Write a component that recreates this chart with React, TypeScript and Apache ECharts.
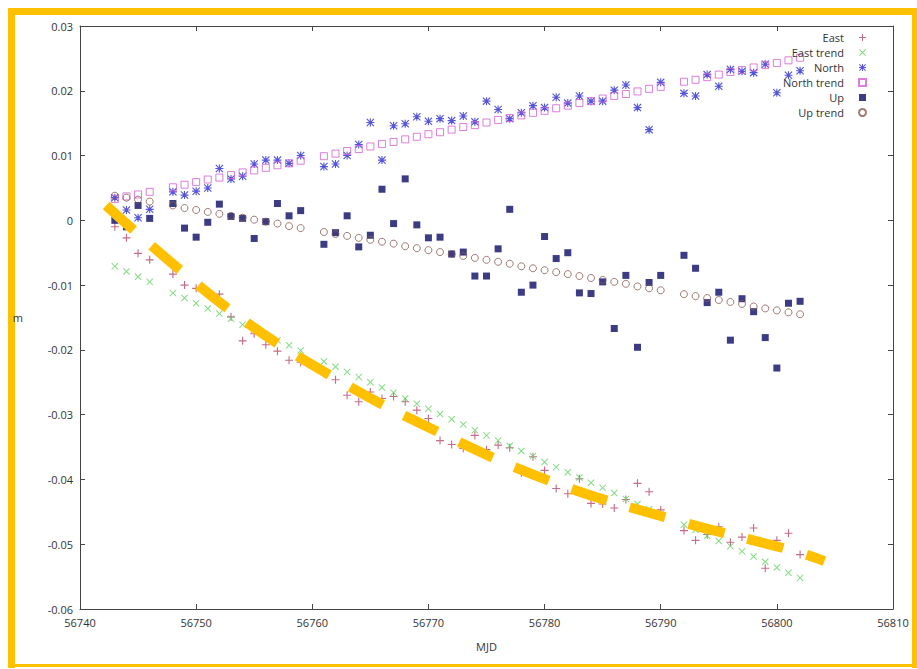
import React, { useEffect, useRef } from "react";
import * as echarts from "echarts";

// Observation epochs (MJD)
const days = [
  56743, 56744, 56745, 56746,
  56748, 56749, 56750, 56751, 56752, 56753, 56754, 56755, 56756, 56757, 56758, 56759,
  56761, 56762, 56763, 56764, 56765, 56766, 56767, 56768, 56769, 56770, 56771, 56772,
  56773, 56774, 56775, 56776, 56777, 56778, 56779, 56780, 56781, 56782, 56783, 56784,
  56785, 56786, 56787, 56788, 56789, 56790,
  56792, 56793, 56794, 56795, 56796, 56797, 56798, 56799, 56800, 56801, 56802,
];

// Daily coordinate offsets in metres
const east = [
  -0.001, -0.0027, -0.0051, -0.0061,
  -0.0083, -0.01, -0.0105, -0.0112, -0.0114, -0.0149, -0.0186, -0.0175, -0.0192, -0.0202, -0.0216, -0.0219,
  -0.0236, -0.0246, -0.027, -0.028, -0.0265, -0.0275, -0.0272, -0.028, -0.0293, -0.0306, -0.034, -0.0346,
  -0.0352, -0.0332, -0.0354, -0.0347, -0.0351, -0.039, -0.0365, -0.0386, -0.0414, -0.0422, -0.0399, -0.0437,
  -0.0438, -0.0444, -0.0431, -0.0406, -0.0419, -0.0447,
  -0.0479, -0.0494, -0.0485, -0.0473, -0.0497, -0.0489, -0.0475, -0.0537, -0.0494, -0.0483, -0.0516,
];
const eastTrend = [
  -0.0071, -0.0079, -0.0087, -0.0095,
  -0.0112, -0.012, -0.0128, -0.0136, -0.0144, -0.0152, -0.0161, -0.0169, -0.0177, -0.0185, -0.0193, -0.0201,
  -0.0218, -0.0226, -0.0234, -0.0242, -0.025, -0.0258, -0.0266, -0.0275, -0.0283, -0.0291, -0.0299, -0.0307,
  -0.0315, -0.0324, -0.0332, -0.034, -0.0348, -0.0356, -0.0364, -0.0373, -0.0381, -0.0389, -0.0397, -0.0405,
  -0.0413, -0.0421, -0.043, -0.0438, -0.0446, -0.0454,
  -0.047, -0.0478, -0.0487, -0.0495, -0.0503, -0.0511, -0.0519, -0.0527, -0.0536, -0.0544, -0.0552,
];
const north = [
  0.0035, 0.0016, 0.0004, 0.0017,
  0.0044, 0.0039, 0.0045, 0.005, 0.008, 0.0064, 0.0068, 0.0087, 0.0093, 0.0093, 0.0088, 0.01,
  0.0083, 0.0087, 0.01, 0.0117, 0.0151, 0.0093, 0.0146, 0.0149, 0.016, 0.0153, 0.0157, 0.0154,
  0.0161, 0.0152, 0.0184, 0.0171, 0.0157, 0.0166, 0.0177, 0.0174, 0.019, 0.0181, 0.0192, 0.0184,
  0.0184, 0.0201, 0.0209, 0.0174, 0.014, 0.0213,
  0.0196, 0.0192, 0.0225, 0.0207, 0.0233, 0.023, 0.0228, 0.0241, 0.0197, 0.0224, 0.0231,
];
const northTrend = [
  0.0033, 0.0037, 0.004, 0.0044,
  0.0051, 0.0055, 0.0059, 0.0063, 0.0066, 0.007, 0.0074, 0.0077, 0.0081, 0.0085, 0.0088, 0.0092,
  0.0099, 0.0103, 0.0107, 0.011, 0.0114, 0.0118, 0.0121, 0.0125, 0.0129, 0.0133, 0.0136, 0.014,
  0.0144, 0.0147, 0.0151, 0.0155, 0.0158, 0.0162, 0.0166, 0.0169, 0.0173, 0.0177, 0.0181, 0.0184,
  0.0188, 0.0192, 0.0195, 0.0199, 0.0203, 0.0206,
  0.0214, 0.0217, 0.0221, 0.0225, 0.0229, 0.0232, 0.0236, 0.024, 0.0243, 0.0247, 0.0251,
];
const up = [
  0.0, -0.001, 0.0023, 0.0003,
  0.0026, -0.0012, -0.0026, -0.0003, 0.0025, 0.0006, 0.0003, -0.0028, -0.0002, 0.0026, 0.0007, 0.0015,
  -0.0037, -0.0019, 0.0007, -0.0041, -0.0023, 0.0048, -0.0005, 0.0064, -0.0007, -0.0027, -0.0026, -0.0052,
  -0.0049, -0.0086, -0.0086, -0.0044, 0.0017, -0.0111, -0.01, -0.0025, -0.0059, -0.005, -0.0112, -0.0113,
  -0.0095, -0.0167, -0.0085, -0.0196, -0.0096, -0.0085,
  -0.0054, -0.0074, -0.0127, -0.0111, -0.0185, -0.0121, -0.0141, -0.0181, -0.0228, -0.0128, -0.0125,
];
const upTrend = [
  0.0038, 0.0035, 0.0032, 0.0029,
  0.0023, 0.0019, 0.0016, 0.0013, 0.001, 0.0007, 0.0004, 0.0001, -0.0002, -0.0005, -0.0009, -0.0012,
  -0.0018, -0.0021, -0.0024, -0.0027, -0.003, -0.0033, -0.0036, -0.004, -0.0043, -0.0046, -0.0049, -0.0052,
  -0.0055, -0.0058, -0.0061, -0.0064, -0.0067, -0.0071, -0.0074, -0.0077, -0.008, -0.0083, -0.0086, -0.0089,
  -0.0092, -0.0095, -0.0098, -0.0102, -0.0105, -0.0108,
  -0.0114, -0.0117, -0.012, -0.0123, -0.0126, -0.0129, -0.0133, -0.0136, -0.0139, -0.0142, -0.0145,
];

// Hand-drawn highlight along the East drift
const sketchDays = [56742.25, 56752.8, 56761.7, 56771.1, 56781.0, 56791.3, 56801.6, 56804.1];
const sketchValues = [0.0023, -0.0137, -0.0241, -0.0329, -0.0406, -0.0463, -0.0511, -0.0526];

const seriesNames = ["East", "East trend", "North", "North trend", "Up", "Up trend"];

const FONT = "'Open Sans', 'DejaVu Sans', sans-serif";
const PLUS_D = "M4.3,0H5.7V4.3H10V5.7H5.7V10H4.3V5.7H0V4.3H4.3Z";
const CROSS_D = "M0,1L1,0L5,4L9,0L10,1L6,5L10,9L9,10L5,6L1,10L0,9L4,5Z";
const PLUS = "path://" + PLUS_D;
const CROSS = "path://" + CROSS_D;
const STAR = "path://" + PLUS_D + CROSS_D;

const pairs = (vals: number[]) => days.map((d, i) => [d, vals[i]]);

export default function App() {
  const ref = useRef<HTMLDivElement>(null);

  useEffect(() => {
    if (!ref.current) return;
    const chart = echarts.init(ref.current, undefined, { renderer: "svg" });

    const axisLine = { show: true, onZero: false, lineStyle: { color: "#444", width: 1 } };
    const axisTick = { show: true, inside: true, length: 5, lineStyle: { color: "#444" } };
    const label = { color: "#333", fontSize: 11, fontFamily: FONT };

    chart.setOption({
      animation: false,
      backgroundColor: "#fff",
      grid: { left: 80, right: 24, top: 26, bottom: 60, containLabel: false },
      legend: {
        data: seriesNames,
        orient: "vertical",
        right: 50,
        top: 32,
        padding: 0,
        align: "right",
        itemWidth: 7,
        itemHeight: 7,
        itemGap: 4,
        textStyle: { ...label, lineHeight: 8, padding: [0, 10, 0, 0] },
      },
      xAxis: [
        {
          type: "value",
          position: "bottom",
          min: 56740,
          max: 56810,
          interval: 10,
          axisLine,
          axisTick,
          axisLabel: { ...label, margin: 8, formatter: (v: number) => String(v) },
          splitLine: { show: false },
          name: "MJD",
          nameLocation: "middle",
          nameGap: 32,
          nameTextStyle: label,
        },
        {
          type: "value",
          position: "top",
          min: 56740,
          max: 56810,
          interval: 10,
          axisLine,
          axisTick,
          axisLabel: { show: false },
          splitLine: { show: false },
        },
      ],
      yAxis: [
        {
          type: "value",
          position: "left",
          min: -0.06,
          max: 0.03,
          interval: 0.01,
          axisLine,
          axisTick,
          axisLabel: { ...label, margin: 7 },
          splitLine: { show: false },
          name: "m",
          nameLocation: "middle",
          nameRotate: 0,
          nameGap: 57,
          nameTextStyle: label,
        },
        {
          type: "value",
          position: "right",
          min: -0.06,
          max: 0.03,
          interval: 0.01,
          axisLine,
          axisTick,
          axisLabel: { show: false },
          splitLine: { show: false },
        },
      ],
      series: [
        {
          name: "East",
          type: "scatter",
          symbol: PLUS,
          symbolSize: 8,
          itemStyle: { color: "#b8476a" },
          data: pairs(east),
        },
        {
          name: "East trend",
          type: "scatter",
          symbol: CROSS,
          symbolSize: 7,
          itemStyle: { color: "#62d262" },
          data: pairs(eastTrend),
        },
        {
          name: "North",
          type: "scatter",
          symbol: STAR,
          symbolSize: 8,
          itemStyle: { color: "#2b2bd0" },
          data: pairs(north),
        },
        {
          name: "North trend",
          type: "scatter",
          symbol: "rect",
          symbolSize: 7,
          itemStyle: { color: "rgba(255,255,255,0)", borderColor: "#d45ed4", borderWidth: 1 },
          data: pairs(northTrend),
        },
        {
          name: "Up",
          type: "scatter",
          symbol: "rect",
          symbolSize: 7,
          itemStyle: { color: "#0b0b66" },
          data: pairs(up),
        },
        {
          name: "Up trend",
          type: "scatter",
          symbol: "circle",
          symbolSize: 7,
          itemStyle: { color: "rgba(255,255,255,0)", borderColor: "#8a5a50", borderWidth: 1 },
          data: pairs(upTrend),
        },
        {
          name: "sketch",
          type: "line",
          smooth: 0.4,
          showSymbol: false,
          symbol: "none",
          z: 10,
          silent: true,
          lineStyle: { color: "#FFC000", width: 10, type: [37, 24], cap: "butt" },
          data: sketchDays.map((d, i) => [d, sketchValues[i]]),
        },
      ],
      graphic: [
        { type: "rect", shape: { x: 8, y: 8, width: 909, height: 7 }, style: { fill: "#FFC000" } },
        { type: "rect", shape: { x: 8, y: 8, width: 7, height: 660 }, style: { fill: "#FFC000" } },
        { type: "rect", shape: { x: 912, y: 8, width: 5, height: 660 }, style: { fill: "#FFC000" } },
        { type: "rect", shape: { x: 8, y: 664, width: 909, height: 3 }, style: { fill: "#FFC000" } },
      ],
    });

    return () => chart.dispose();
  }, []);

  return (
    <div
      ref={ref}
      style={{ position: "fixed", left: 0, top: 0, width: 917, height: 669, background: "#fff" }}
    />
  );
}
